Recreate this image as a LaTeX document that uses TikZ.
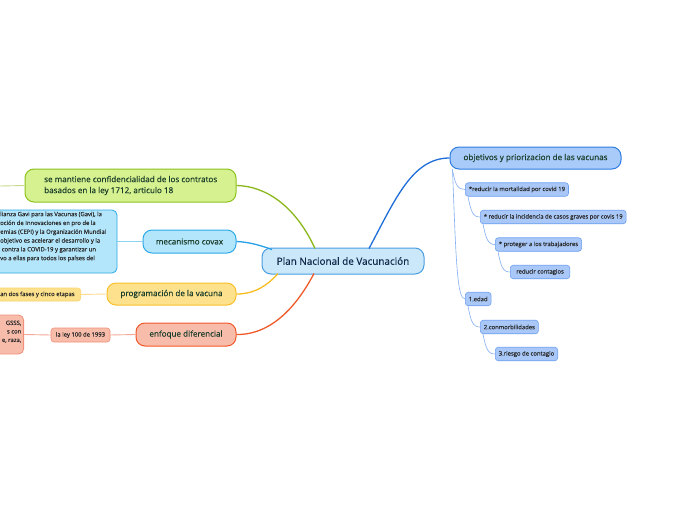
\documentclass[tikz,border=0pt]{standalone}
\usepackage{fontspec}
\setmainfont{Open Sans}
\newfontfamily\semib[FakeBold=0.5]{Open Sans}
\newfontfamily\leaff[FakeBold=0.25]{Open Sans}
\usetikzlibrary{calc}
\definecolor{cfill}{HTML}{CBE8FB}
\definecolor{cdraw}{HTML}{4A9EE0}
\definecolor{ctext}{HTML}{12284A}
\definecolor{ofill}{HTML}{A9CBFA}
\definecolor{odraw}{HTML}{2F7DE1}
\definecolor{oline}{HTML}{1F6ED8}
\definecolor{sfill}{HTML}{A9C8F8}
\definecolor{sdraw}{HTML}{6C9FF0}
\definecolor{sline}{HTML}{82AEF2}
\definecolor{gfill}{HTML}{D6F18F}
\definecolor{gdraw}{HTML}{8DC21F}
\definecolor{gline}{HTML}{8AB81A}
\definecolor{kfill}{HTML}{B3E5FB}
\definecolor{kdraw}{HTML}{2EAAE8}
\definecolor{kline}{HTML}{26A0E6}
\definecolor{kline2}{HTML}{8CD2F4}
\definecolor{yfill}{HTML}{FDE18C}
\definecolor{ydraw}{HTML}{F9C02C}
\definecolor{yline}{HTML}{F9BD20}
\definecolor{yline2}{HTML}{FBDC90}
\definecolor{rfill}{HTML}{F8BCAA}
\definecolor{rdraw}{HTML}{F0582A}
\definecolor{rline}{HTML}{F05A28}
\definecolor{rdraw2}{HTML}{F0907A}
\definecolor{rline2}{HTML}{F4A898}
\definecolor{btext}{HTML}{1C3F2C}
\definecolor{stext}{HTML}{2A2A2A}
\tikzset{
  mainbox/.style={draw=cdraw,fill=cfill,line width=1pt,rounded corners=9pt,inner sep=0pt,
    minimum width=162pt,minimum height=26pt,text=ctext,font=\semib\fontsize{9.9}{11}\selectfont},
  branch/.style={line width=1pt,rounded corners=9pt,inner sep=0pt,text=btext,
    font=\semib\fontsize{8.1}{10}\selectfont},
  leaf/.style={line width=0.6pt,rounded corners=3pt,inner sep=0pt,text=stext,
    font=\leaff\fontsize{5.9}{7}\selectfont},
  sleaf/.style={leaf,draw=sdraw,fill=sfill,minimum height=13.5pt,inner xsep=3.5pt,anchor=west},
  conn/.style={line width=1.3pt},
  sconn/.style={line width=0.6pt,draw=sline}
}
\begin{document}
\begin{tikzpicture}[x=1pt,y=-1pt]
\useasboundingbox (0,0) rectangle (696,520);
\clip (0,0) rectangle (696,520);
\fill[white] (0,0) rectangle (696,520);

% central
\node[mainbox] (c) at (343,261) {Plan Nacional de Vacunación};

% objectives
\node[branch,draw=odraw,fill=ofill,minimum width=171pt,minimum height=22pt] (obj) at (535.5,158) {objetivos y priorizacion de las vacunas};
\node[sleaf] (s1) at (465,189.5) {*reducir la mortalidad por covid 19};
\node[sleaf] (s2) at (480,217) {* reducir la incidencia de casos graves por covis 19};
\node[sleaf] (s3) at (495,244.5) {* proteger a los trabajadores};
\node[sleaf,inner xsep=6pt] (s4) at (510,272) {reducir contagios};
\node[sleaf] (s5) at (465,299) {1.edad};
\node[sleaf] (s6) at (480,327) {2.conmorbilidades};
\node[sleaf] (s7) at (495,354) {3.riesgo de contagio};

% left branches
\node[branch,draw=gdraw,fill=gfill,minimum width=211pt,minimum height=33pt] (g) at (130.5,185.5) {};
\node[anchor=west,inner sep=0pt,text=btext,font=\semib\fontsize{8.1}{11}\selectfont,align=left] (gt) at (44,185.5)
  {se mantiene confidencialidad de los contratos\\ basados en la ley 1712, articulo 18};
\coordinate (gend) at (0,186);

\node[branch,draw=kdraw,fill=kfill,minimum width=93pt,minimum height=23pt] (k) at (189.5,241.5) {mecanismo covax};
\node[leaf,draw=kdraw,fill=kfill,minimum width=135pt,minimum height=63pt,rounded corners=5pt,line width=0.8pt] (kl) at (49.5,241.5) {};
\node[anchor=north west,inner sep=0pt,text=stext,font=\leaff\fontsize{5.9}{8.8}\selectfont,align=left] (kt) at (0,211.5)
  {lianza Gavi para las Vacunas (Gavi), la\\
   oción de Innovaciones en pro de la\\
   emias (CEPI) y la Organización Mundial\\
   objetivo es acelerar el desarrollo y la\\
   \ contra la COVID-19 y garantizar un\\
   vo a ellas para todos los países del};

\node[branch,draw=ydraw,fill=yfill,minimum width=129pt,minimum height=22pt] (y) at (171.5,294) {programación de la vacuna};
\node[leaf,draw=ydraw!70!white,fill=yfill,minimum width=91pt,minimum height=13pt,anchor=east] (yl) at (81,294.5) {};
\node[anchor=west,inner sep=0pt,text=stext,font=\leaff\fontsize{5.9}{7}\selectfont] (yt) at (0,294.5) {an dos fases y cinco etapas};

\node[branch,draw=rdraw,fill=rfill,minimum width=100pt,minimum height=23pt] (r) at (186,334.5) {enfoque diferencial};
\node[leaf,draw=rdraw2,fill=rfill,minimum width=59pt,minimum height=14pt] (rl) at (80.5,335) {la ley 100 de 1993};
\node[leaf,draw=rdraw2,fill=rfill,minimum width=40pt,minimum height=39pt,rounded corners=5pt,line width=0.8pt,anchor=east] (rb) at (24,334.5) {};
\node[anchor=north east,inner sep=0pt,text=stext,font=\leaff\fontsize{5.9}{8.5}\selectfont,align=right] (rt) at (21.5,320.5)
  {GSSS,\\ s con\\ e, raza,};

% main connectors
\draw[conn,draw=oline] (369,248.5) .. controls (395,200) and (412,158) .. (obj.west);
\draw[conn,draw=gline] (315,248.5) .. controls (295,205) and (265,186) .. (g.east);
\draw[conn,draw=kline] (k.east) .. controls (250,242) and (262,246) .. (272,249.5);
\draw[conn,draw=yline] (y.east) .. controls (255,294) and (268,285) .. (278,273.5);
\draw[conn,draw=rline] (r.east) .. controls (275,335) and (300,300) .. (314,273.5);
\draw[line width=0.9pt,draw=gline!50!white] (g.west) -- (gend);
\draw[line width=0.9pt,draw=kline2] (kl.east) -- (k.west);
\draw[line width=0.9pt,draw=yline2] (yl.east) -- (y.west);
\draw[line width=0.9pt,draw=rline2] (rl.east) -- (r.west);
\draw[line width=0.9pt,draw=rline2] (rb.east) -- (rl.west);

% objectives subtree connectors
\draw[sconn] ($(obj.south west)+(3,0)$) .. controls (455,185) and (458,189.5) .. (s1.west);
\draw[sconn] ($(obj.south west)+(3,0)$) .. controls (456,260) and (457,299) .. (s5.west);
\draw[sconn] ($(s1.south west)+(3,0)$) .. controls (471,212) and (473,217) .. (s2.west);
\draw[sconn] ($(s2.south west)+(3,0)$) .. controls (486,239) and (488,244.5) .. (s3.west);
\draw[sconn] ($(s3.south west)+(3,0)$) .. controls (501,267) and (503,272) .. (s4.west);
\draw[sconn] ($(s5.south west)+(3,0)$) .. controls (471,322) and (473,327) .. (s6.west);
\draw[sconn] ($(s6.south west)+(3,0)$) .. controls (486,349) and (488,354) .. (s7.west);
\end{tikzpicture}
\end{document}
